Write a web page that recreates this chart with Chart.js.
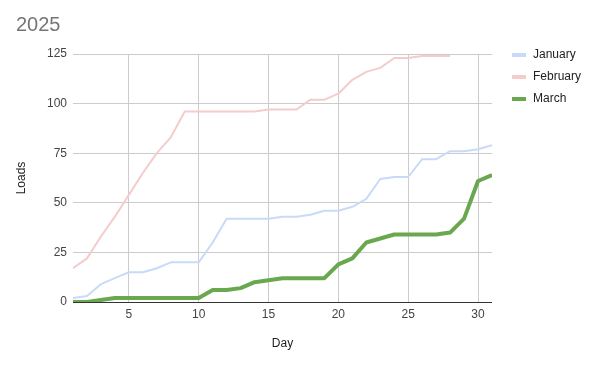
<!DOCTYPE html>
<html>
<head>
<meta charset="utf-8">
<script src="https://cdn.jsdelivr.net/npm/chart.js@4/dist/chart.umd.min.js"></script>
<style>
  html, body { margin: 0; padding: 0; background: #fff; }
  #wrap { width: 599px; height: 368px; position: relative; }
</style>
</head>
<body>
<div id="wrap"><canvas id="c" width="599" height="368"></canvas></div>
<script>
const chartTitle = '2025';
const days = [1,2,3,4,5,6,7,8,9,10,11,12,13,14,15,16,17,18,19,20,21,22,23,24,25,26,27,28,29,30,31];
const january = [2,3,9,12,15,15,17,20,20,20,30,42,42,42,42,43,43,44,46,46,48,52,62,63,63,72,72,76,76,77,79];
const february = [17,22,33,43,54,65,75,83,96,96,96,96,96,96,97,97,97,102,102,105,112,116,118,123,123,124,124,124];
const march = [0,0,1,2,2,2,2,2,2,2,6,6,7,10,11,12,12,12,12,19,22,30,32,34,34,34,34,35,42,61,64];
const seriesNames = ['January', 'February', 'March'];
const xTicks = [5,10,15,20,25,30];
const yTicks = [0,25,50,75,100,125];
const xTitle = 'Day';
const yTitle = 'Loads';

const FONT = '"Liberation Sans", Arial, sans-serif';

const sideLegend = {
  id: 'sideLegend',
  afterDraw(chart) {
    const ctx = chart.ctx;
    const x0 = chart.chartArea.right + 20;
    const y0 = chart.chartArea.top + 1;
    ctx.save();
    chart.data.datasets.forEach((ds, i) => {
      const y = y0 + i * 22;
      ctx.fillStyle = ds.borderColor;
      ctx.fillRect(x0, y - 2, 14, 4);
      ctx.fillStyle = '#222222';
      ctx.font = '12px ' + FONT;
      ctx.textBaseline = 'middle';
      ctx.textAlign = 'left';
      ctx.fillText(ds.label, x0 + 21, y);
    });
    ctx.restore();
  }
};

new Chart(document.getElementById('c'), {
  type: 'line',
  data: {
    labels: days,
    datasets: [
      { label: seriesNames[0], data: january, borderColor: '#c9daf8', backgroundColor: '#c9daf8', borderWidth: 2, order: 3 },
      { label: seriesNames[1], data: february, borderColor: '#f4cccc', backgroundColor: '#f4cccc', borderWidth: 2, order: 2 },
      { label: seriesNames[2], data: march, borderColor: '#6aa84f', backgroundColor: '#6aa84f', borderWidth: 4, order: 1 }
    ]
  },
  options: {
    responsive: false,
    animation: false,
    devicePixelRatio: 1,
    layout: { padding: { left: 16, right: 107, top: 0, bottom: 0 } },
    elements: {
      line: { tension: 0, borderJoinStyle: 'round', borderCapStyle: 'butt' },
      point: { radius: 0, hoverRadius: 0 }
    },
    datasets: { line: { clip: 0 } },
    plugins: {
      legend: { display: false },
      tooltip: { enabled: false },
      title: {
        display: true,
        text: chartTitle,
        align: 'start',
        color: '#757575',
        font: { family: FONT, size: 20, weight: 'normal' },
        padding: { top: 13, bottom: 17 }
      }
    },
    scales: {
      x: {
        type: 'linear',
        min: 1,
        max: 31,
        afterBuildTicks: (s) => { s.ticks = xTicks.map(v => ({ value: v })); },
        afterFit: (s) => { s.height = 66; },
        grid: { color: '#cccccc', drawTicks: false, lineWidth: 1 },
        border: { display: false },
        ticks: { color: '#444444', padding: 5, font: { family: FONT, size: 12 }, maxRotation: 0, autoSkip: false },
        title: { display: true, text: xTitle, color: '#222222', font: { family: FONT, size: 12 }, padding: { top: 0, bottom: 17 } }
      },
      y: {
        min: 0,
        max: 125,
        afterBuildTicks: (s) => { s.ticks = yTicks.map(v => ({ value: v })); },
        afterFit: (s) => { s.width = 57; },
        grid: { color: (c) => (c.tick && c.tick.value === 0 ? '#333333' : '#cccccc'), drawTicks: false, lineWidth: 1 },
        border: { display: false },
        ticks: { color: '#444444', padding: 6, font: { family: FONT, size: 12 } },
        title: { display: true, text: yTitle, color: '#222222', font: { family: FONT, size: 12, lineHeight: 1 }, padding: { top: 0, bottom: 0 } }
      }
    }
  },
  plugins: [sideLegend]
});
</script>
</body>
</html>
